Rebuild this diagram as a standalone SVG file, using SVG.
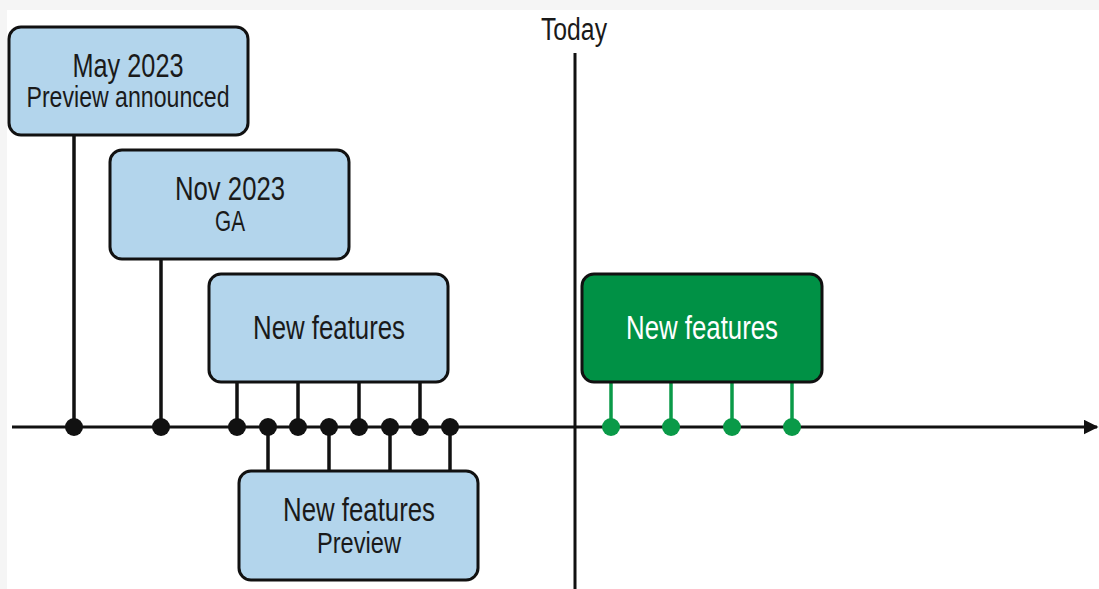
<svg xmlns="http://www.w3.org/2000/svg" width="1099" height="589" viewBox="0 0 1099 589">
<defs>
<style>
.box{fill:#b3d5ec;stroke:#111;stroke-width:3}
.gbox{fill:#009145;stroke:#111;stroke-width:3}
.t{font-family:"Liberation Sans",Arial,sans-serif;fill:#1a1a1a;text-anchor:middle}
.tw{font-family:"Liberation Sans",Arial,sans-serif;fill:#fff;text-anchor:middle}
.stem{stroke:#111;stroke-width:3.5}
.gstem{stroke:#0a9a48;stroke-width:3.5}
.dot{fill:#111}
.gdot{fill:#0a9a48}
</style>
<marker id="arr" viewBox="0 0 10 10" refX="9" refY="5" markerWidth="5" markerHeight="5" orient="auto" markerUnits="strokeWidth">
<path d="M0,0 L10,5 L0,10 z" fill="#111"/>
</marker>
</defs>
<rect x="0" y="0" width="1099" height="589" fill="#f5f5f5"/>
<rect x="7" y="10" width="1092" height="579" fill="#fff"/>
<g id="connectors">
<line x1="12" y1="427" x2="1097" y2="427" stroke="#111" stroke-width="3" marker-end="url(#arr)"/>
<line x1="575" y1="53" x2="575" y2="589" stroke="#111" stroke-width="3"/>
<line class="stem" x1="74" y1="135" x2="74" y2="427"/>
<line class="stem" x1="161" y1="259" x2="161" y2="427"/>
<line class="stem" x1="237" y1="382" x2="237" y2="427"/>
<line class="stem" x1="298" y1="382" x2="298" y2="427"/>
<line class="stem" x1="359" y1="382" x2="359" y2="427"/>
<line class="stem" x1="420" y1="382" x2="420" y2="427"/>
<line class="stem" x1="268" y1="427" x2="268" y2="471"/>
<line class="stem" x1="329" y1="427" x2="329" y2="471"/>
<line class="stem" x1="390" y1="427" x2="390" y2="471"/>
<line class="stem" x1="450" y1="427" x2="450" y2="471"/>
<line class="gstem" x1="611" y1="382" x2="611" y2="427"/>
<line class="gstem" x1="671" y1="382" x2="671" y2="427"/>
<line class="gstem" x1="732" y1="382" x2="732" y2="427"/>
<line class="gstem" x1="792" y1="382" x2="792" y2="427"/>
<circle class="dot" cx="74" cy="427" r="9"/>
<circle class="dot" cx="161" cy="427" r="9"/>
<circle class="dot" cx="237" cy="427" r="9"/>
<circle class="dot" cx="268" cy="427" r="9"/>
<circle class="dot" cx="298" cy="427" r="9"/>
<circle class="dot" cx="329" cy="427" r="9"/>
<circle class="dot" cx="359" cy="427" r="9"/>
<circle class="dot" cx="390" cy="427" r="9"/>
<circle class="dot" cx="420" cy="427" r="9"/>
<circle class="dot" cx="450" cy="427" r="9"/>
<circle class="gdot" cx="611" cy="427" r="9"/>
<circle class="gdot" cx="671" cy="427" r="9"/>
<circle class="gdot" cx="732" cy="427" r="9"/>
<circle class="gdot" cx="792" cy="427" r="9"/>
</g>
<g id="today">
<text class="t" x="574" y="40" font-size="31" textLength="66" lengthAdjust="spacingAndGlyphs">Today</text>
</g>
<g id="may2023">
<rect class="box" x="9" y="27" width="239" height="108" rx="12"/>
<text class="t" x="128" y="77" font-size="33" textLength="111" lengthAdjust="spacingAndGlyphs">May 2023</text>
<text class="t" x="128" y="107" font-size="29" textLength="203" lengthAdjust="spacingAndGlyphs">Preview announced</text>
</g>
<g id="nov2023">
<rect class="box" x="110" y="150" width="239" height="109" rx="12"/>
<text class="t" x="230" y="200" font-size="33" textLength="110" lengthAdjust="spacingAndGlyphs">Nov 2023</text>
<text class="t" x="230" y="231" font-size="29" textLength="30" lengthAdjust="spacingAndGlyphs">GA</text>
</g>
<g id="newfeatures">
<rect class="box" x="209" y="274" width="239" height="108" rx="12"/>
<text class="t" x="329" y="339" font-size="33" textLength="152" lengthAdjust="spacingAndGlyphs">New features</text>
</g>
<g id="newfeaturespreview">
<rect class="box" x="239" y="471" width="239" height="109" rx="12"/>
<text class="t" x="359" y="521" font-size="33" textLength="152" lengthAdjust="spacingAndGlyphs">New features</text>
<text class="t" x="359" y="553" font-size="29" textLength="84" lengthAdjust="spacingAndGlyphs">Preview</text>
</g>
<g id="futurefeatures">
<rect class="gbox" x="582" y="274" width="240" height="108" rx="12"/>
<text class="tw" x="702" y="339" font-size="33" textLength="152" lengthAdjust="spacingAndGlyphs">New features</text>
</g>
</svg>
